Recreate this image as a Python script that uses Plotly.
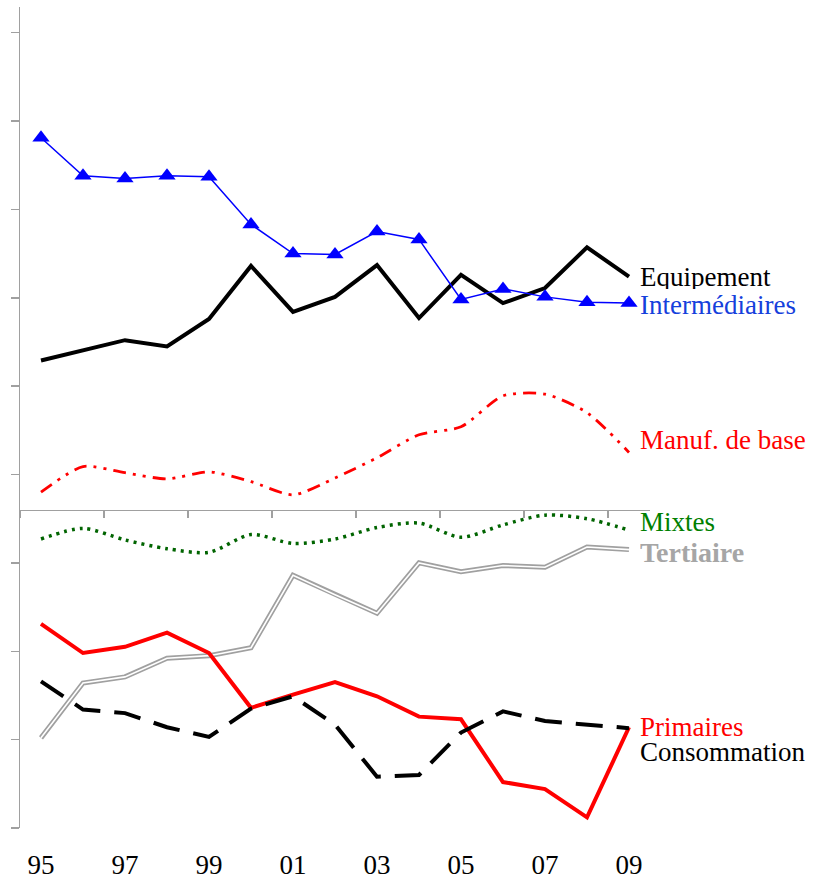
import plotly.graph_objects as go

years = ["95", "96", "97", "98", "99", "00", "01", "02", "03", "04", "05", "06", "07", "08", "09"]

intermediaires = [7.81, 7.38, 7.35, 7.38, 7.37, 6.83, 6.50, 6.49, 6.75, 6.66, 5.98, 6.10, 6.01, 5.95, 5.94]
equipement = [5.29, 5.40, 5.52, 5.45, 5.76, 6.36, 5.84, 6.01, 6.37, 5.77, 6.26, 5.94, 6.11, 6.57, 6.24]
manuf_base = [3.80, 4.09, 4.02, 3.95, 4.03, 3.92, 3.77, 3.96, 4.19, 4.45, 4.54, 4.89, 4.91, 4.70, 4.25]
mixtes = [3.27, 3.39, 3.26, 3.16, 3.12, 3.32, 3.22, 3.27, 3.40, 3.45, 3.29, 3.43, 3.54, 3.50, 3.37]
tertiaire = [1.02, 1.64, 1.71, 1.92, 1.95, 2.04, 2.86, 2.64, 2.43, 3.00, 2.90, 2.97, 2.95, 3.18, 3.15]
primaires = [2.31, 1.98, 2.05, 2.21, 1.98, 1.36, 1.51, 1.65, 1.49, 1.26, 1.23, 0.52, 0.44, 0.12, 1.14]
consommation = [1.66, 1.34, 1.30, 1.14, 1.03, 1.35, 1.49, 1.17, 0.58, 0.60, 1.08, 1.32, 1.21, 1.17, 1.13]

y_min, y_max = 0.0, 9.29
x_cross = 3.60

labels = [
    ("Equipement", 6.23, "black", False, 27),
    ("Intermédiaires", 5.92, "#1540DC", False, 27),
    ("Manuf. de base", 4.39, "#FF0000", False, 27),
    ("Mixtes", 3.46, "#008000", False, 27),
    ("Tertiaire", 3.12, "#A6A6A6", True, 28),
    ("Primaires", 1.14, "#FF0000", False, 27),
    ("Consommation", 0.86, "black", False, 27),
]

SERIF = "Liberation Serif, Times New Roman, serif"

fig = go.Figure()

# Tertiaire: double gray line
fig.add_trace(go.Scatter(x=years, y=tertiaire, mode="lines",
                         line=dict(color="#A0A0A0", width=5), showlegend=False))
fig.add_trace(go.Scatter(x=years, y=tertiaire, mode="lines",
                         line=dict(color="white", width=1.6), showlegend=False))
# Mixtes: green dotted smooth
fig.add_trace(go.Scatter(x=years, y=mixtes, mode="lines",
                         line=dict(color="#006400", width=3.5, dash="3px,5px", shape="spline", smoothing=0.8),
                         showlegend=False))
# Manuf. de base: red long dash dot dot smooth
fig.add_trace(go.Scatter(x=years, y=manuf_base, mode="lines",
                         line=dict(color="#FF0000", width=2.8, dash="13px,7px,3px,7px,3px,7px",
                                   shape="spline", smoothing=0.7),
                         showlegend=False))
# Primaires: red solid
fig.add_trace(go.Scatter(x=years, y=primaires, mode="lines",
                         line=dict(color="#FF0000", width=4), showlegend=False))
# Consommation: black dashed
fig.add_trace(go.Scatter(x=years, y=consommation, mode="lines",
                         line=dict(color="black", width=4, dash="27px,14px"), showlegend=False))
# Equipement: black solid
fig.add_trace(go.Scatter(x=years, y=equipement, mode="lines",
                         line=dict(color="black", width=4), showlegend=False))
# Intermédiaires: blue with triangles
fig.add_trace(go.Scatter(x=years, y=intermediaires, mode="lines+markers",
                         line=dict(color="#0000FF", width=1.5),
                         marker=dict(symbol="triangle-up", size=15, color="#0000FF"),
                         showlegend=False))

annotations = []
for text, yv, col, bold, size in labels:
    annotations.append(dict(
        x=0.982, xref="paper", y=yv, yref="y",
        text=f"<b>{text}</b>" if bold else text,
        showarrow=False, xanchor="left", yanchor="middle",
        height=24, valign="middle", borderpad=0,
        font=dict(family=SERIF, size=size, color=col),
    ))

fig.update_layout(
    template="none",
    width=823, height=881, autosize=False,
    margin=dict(l=20, r=173, t=7, b=53, autoexpand=False),
    plot_bgcolor="white", paper_bgcolor="white",
    showlegend=False,
    hovermode=False,
    annotations=annotations,
    xaxis=dict(
        type="category", categoryorder="array", categoryarray=years,
        range=[-0.5, 14.5], automargin=False,
        anchor="free", position=(x_cross - y_min) / (y_max - y_min),
        showline=True, linecolor="#A0A0A0", linewidth=1.5,
        tickson="boundaries", dtick=2,
        ticks="outside", ticklen=7, tickcolor="#A0A0A0", tickwidth=1.5,
        showgrid=False, zeroline=False,
        ticklabelstandoff=330,
        tickfont=dict(family=SERIF, size=27, color="black"),
    ),
    yaxis=dict(
        range=[y_min, y_max], automargin=False,
        showline=True, linecolor="#A0A0A0", linewidth=1.5,
        ticks="outside", ticklen=8, tickcolor="#A0A0A0", tickwidth=1.5,
        tick0=0, dtick=1, showticklabels=False,
        showgrid=False, zeroline=False,
    ),
)

fig.write_html("out.html",
               config={"displayModeBar": False, "staticPlot": True},
               post_script="document.body.style.margin='0';document.body.style.overflow='hidden';")
